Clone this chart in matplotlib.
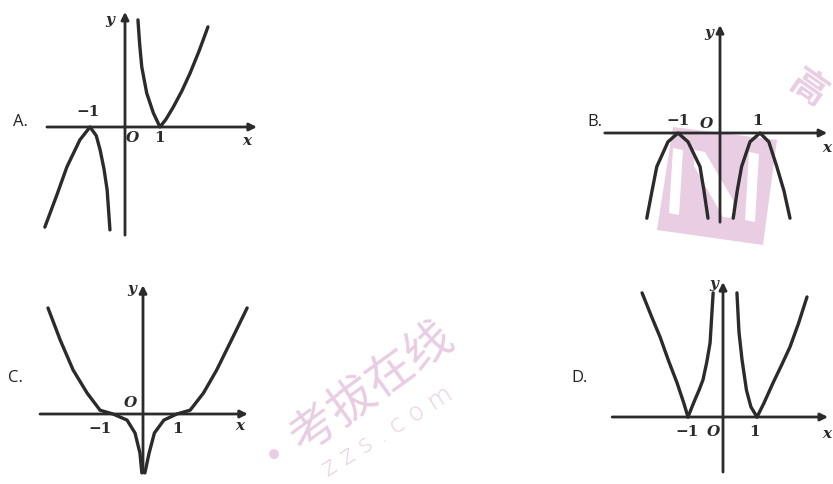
import matplotlib.pyplot as plt
from matplotlib.patches import Polygon

# panel letters
panel_names = ["A.", "B.", "C.", "D."]

# curve branches (x, y in graph units)
a_left_x = [-2.29, -1.95, -1.66, -1.29, -1.0, -0.82, -0.71, -0.6, -0.51, -0.43]
a_left_y = [-2.86, -1.95, -1.14, -0.37, 0.0, -0.25, -0.66, -1.2, -1.8, -2.94]
a_right_x = [0.37, 0.42, 0.48, 0.62, 0.81, 1.0, 1.17, 1.38, 1.62, 1.86, 2.12, 2.37]
a_right_y = [3.06, 2.35, 1.71, 0.97, 0.4, 0.0, 0.22, 0.57, 1.02, 1.54, 2.18, 2.86]

b_left_x = [-1.83, -1.7, -1.58, -1.3, -1.05, -0.8, -0.5, -0.4, -0.3]
b_left_y = [-2.13, -1.45, -0.84, -0.22, 0.0, -0.22, -0.84, -1.45, -2.13]
b_right_x = [0.33, 0.43, 0.54, 0.75, 1.0, 1.22, 1.42, 1.6, 1.75]
b_right_y = [-2.13, -1.45, -0.84, -0.22, 0.0, -0.22, -0.84, -1.45, -2.13]

c_left_x = [-2.5, -2.18, -1.84, -1.47, -1.13, -0.79, -0.42, -0.21, -0.08, -0.03]
c_left_y = [2.79, 1.95, 1.16, 0.55, 0.1, 0.0, -0.16, -0.5, -1.03, -1.55]
c_right_x = [0.05, 0.16, 0.3, 0.55, 0.89, 1.24, 1.59, 1.94, 2.33, 2.74]
c_right_y = [-1.55, -1.03, -0.5, -0.16, 0.0, 0.1, 0.55, 1.16, 1.95, 2.79]

d_ll_x = [-2.38, -2.1, -1.85, -1.6, -1.35, -1.15, -1.03]
d_ll_y = [3.65, 2.95, 2.35, 1.65, 1.0, 0.4, 0.0]
d_lr_x = [-1.03, -0.85, -0.7, -0.59, -0.48, -0.38, -0.29]
d_lr_y = [0.0, 0.45, 0.8, 1.09, 1.6, 2.18, 3.65]
d_rl_x = [0.41, 0.47, 0.56, 0.69, 0.82, 1.0]
d_rl_y = [3.65, 2.5, 1.68, 0.79, 0.3, 0.0]
d_rr_x = [1.0, 1.2, 1.47, 1.72, 1.97, 2.22, 2.47]
d_rr_y = [0.0, 0.4, 1.0, 1.52, 2.06, 2.75, 3.53]

# tick labels on each graph
tick_text = ["\u22121", "1"]

W, H = 833, 484
fig = plt.figure(figsize=(W / 100, H / 100), dpi=100)
fig.patch.set_facecolor("white")

# watermark layer in pixel coords
bg = fig.add_axes([0, 0, 1, 1], zorder=0)
bg.set_xlim(0, W)
bg.set_ylim(H, 0)
bg.axis("off")
pink = "#e8cde3"
bg.add_patch(Polygon([(673, 127), (777, 140), (763, 245), (657, 230)], color=pink, lw=0))
bg.add_patch(Polygon([(673, 148), (683, 150), (679, 215), (669, 213)], color="white", lw=0))
bg.add_patch(Polygon([(749, 152), (759, 154), (755, 222), (745, 220)], color="white", lw=0))
bg.add_patch(Polygon([(694, 150), (705, 152), (733, 200), (733, 218), (723, 217), (694, 166)], color="white", lw=0))
bg.text(808, 88, "高", rotation=-35, fontsize=26, color=pink, ha="center", va="center",
        family=["Noto Sans CJK SC"], fontweight="bold")
bg.text(350, 392, "·考拔在线", rotation=36, fontsize=34, color=pink, ha="center", va="center",
        family=["Noto Sans CJK SC"], fontweight="light")
bg.text(388, 432, "z z s . c o m", rotation=32, fontsize=18, color=pink, ha="center", va="center",
        family=["DejaVu Sans"], fontweight="light")

ink = "#2b2b2b"
serif = ["DejaVu Serif"]


def panel(ox, oy, u, box, xr, yr):
    # box = (left, top, right, bottom) in px; origin (ox, oy) in px; u px per unit
    l, t, r, b = box
    ax = fig.add_axes([l / W, 1 - b / H, (r - l) / W, (b - t) / H], zorder=2)
    ax.set_xlim((l - ox) / u, (r - ox) / u)
    ax.set_ylim((oy - b) / u, (oy - t) / u)
    ax.patch.set_alpha(0)
    ax.axis("off")
    arrow = dict(arrowstyle="-|>", lw=2.0, color=ink, mutation_scale=11, shrinkA=0, shrinkB=0)
    ax.annotate("", xy=(xr[1], 0), xytext=(xr[0], 0), arrowprops=arrow)
    ax.annotate("", xy=(0, yr[1]), xytext=(0, yr[0]), arrowprops=arrow)
    return ax


def curve(ax, xs, ys):
    ax.plot(xs, ys, color=ink, lw=2.4, solid_joinstyle="round", solid_capstyle="round")


def lab(ax, x, y, s, italic=False):
    ax.text(x, y, s, fontsize=11, color=ink, ha="center", va="center", family=serif,
            style="italic" if italic else "normal", fontweight="bold")


# A
ax = panel(125, 127, 35, (30, 0, 265, 245), (-2.23, 3.77), (-3.09, 3.29))
curve(ax, a_left_x, a_left_y)
curve(ax, a_right_x, a_right_y)
lab(ax, -1.06, 0.43, tick_text[0])
lab(ax, 1.0, -0.32, tick_text[1])
lab(ax, 0.22, -0.32, "O", True)
lab(ax, 3.49, -0.4, "x", True)
lab(ax, -0.43, 3.06, "y", True)

# B
ax = panel(720, 133, 40, (590, 10, 833, 235), (-2.88, 2.68), (-2.23, 2.7))
curve(ax, b_left_x, b_left_y)
curve(ax, b_right_x, b_right_y)
lab(ax, -1.05, 0.3, tick_text[0])
lab(ax, 0.95, 0.3, tick_text[1])
lab(ax, -0.33, 0.22, "O", True)
lab(ax, 2.68, -0.38, "x", True)
lab(ax, -0.27, 2.5, "y", True)

# C
ax = panel(143, 414, 38, (30, 270, 265, 484), (-2.71, 2.76), (-1.55, 3.39))
curve(ax, c_left_x, c_left_y)
curve(ax, c_right_x, c_right_y)
lab(ax, -1.13, -0.4, tick_text[0])
lab(ax, 0.92, -0.4, tick_text[1])
lab(ax, -0.34, 0.3, "O", True)
lab(ax, 2.55, -0.32, "x", True)
lab(ax, -0.29, 3.3, "y", True)

# D
ax = panel(723, 417, 34, (600, 270, 833, 484), (-3.26, 3.09), (-1.62, 3.97))
curve(ax, d_ll_x, d_ll_y)
curve(ax, d_lr_x, d_lr_y)
curve(ax, d_rl_x, d_rl_y)
curve(ax, d_rr_x, d_rr_y)
lab(ax, -1.06, -0.45, tick_text[0])
lab(ax, 0.94, -0.45, tick_text[1])
lab(ax, -0.29, -0.45, "O", True)
lab(ax, 3.06, -0.5, "x", True)
lab(ax, -0.27, 3.92, "y", True)

# option letters
for (px, py), name in zip([(20, 122), (595, 122), (15, 378), (580, 378)], panel_names):
    fig.text(px / W, 1 - py / H, name, fontsize=12, color="#222222", ha="center", va="center",
             family=["Open Sans"])

fig.savefig("out.png", dpi=100)
